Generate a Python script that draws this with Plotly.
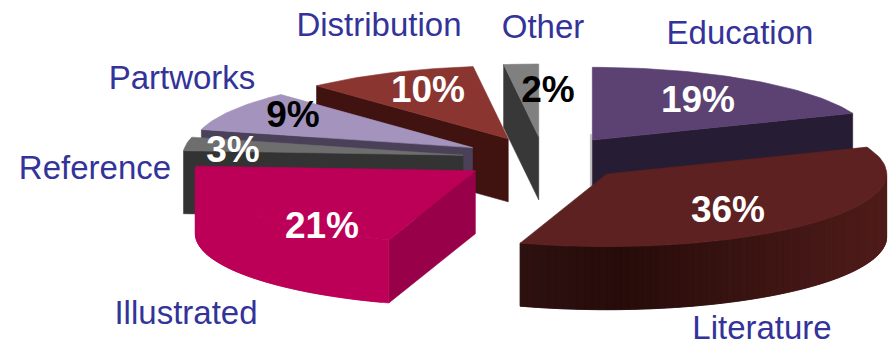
import math
import plotly.graph_objects as go

# Revenue share by division, clockwise from twelve o'clock
categories = ["Education", "Literature", "Illustrated", "Reference", "Partworks", "Distribution", "Other"]
shares = [19, 36, 21, 3, 9, 10, 2]

# Colours per division: top face, radial wall, outer wall ramp
top_colors = ["#5b4272", "#5c2120", "#bc0058", "#6e6e6e", "#a393bd", "#8a3530", "#808080"]
wall_colors = ["#261c33", "#3a1412", "#98004a", "#333333", "#4a4058", "#401210", "#383838"]
rim_colors = {
    "Literature": [(0.0, "#4f1c1a"), (0.72, "#260c0a"), (1.0, "#2e1110")],
    "Illustrated": [(0.0, "#bc0058"), (1.0, "#bc0058")],
}
pct_colors = ["white", "white", "white", "white", "black", "white", "black"]

# How far each slice is pulled out of the pie
explode = [86.0, 86.0, 83.0, 82.0, 83.0, 84.0, 84.0]

# Label anchor points on the page, in pixels
name_xy = [(740, 36), (762, 331), (186, 316), (95, 171), (182, 81), (379, 28), (543, 30)]
pct_xy = [(698, 103), (728, 213), (322, 229), (233, 153), (293, 118), (428, 93), (548, 93)]

# Projection of the tilted pie
CX, CY = 544.0, 158.6
RADIUS = 280.0
TILT = 0.26
DEPTH = 63.0


def project(deg, r, ox, oy):
    a = math.radians(deg)
    return ox + r * math.sin(a), oy - r * TILT * math.cos(a)


def hex_rgb(c):
    return tuple(int(c[i:i + 2], 16) for i in (1, 3, 5))


def ramp(stops, t):
    for (t0, c0), (t1, c1) in zip(stops, stops[1:]):
        if t <= t1:
            f = (t - t0) / (t1 - t0)
            a, b = hex_rgb(c0), hex_rgb(c1)
            return "rgb(%d,%d,%d)" % tuple(round(a[i] + (b[i] - a[i]) * f) for i in range(3))
    return stops[-1][1]


def polygon(points, color):
    return go.Scatter(
        x=[p[0] for p in points] + [points[0][0]],
        y=[p[1] for p in points] + [points[0][1]],
        mode="lines",
        fill="toself",
        fillcolor=color,
        line=dict(color=color, width=0.6),
        hoverinfo="skip",
        showlegend=False,
    )


# Work out each slice's angular span and exploded apex
slices = {}
angle = 0.0
for i, name in enumerate(categories):
    span = shares[i] * 3.6
    ox, oy = project(angle + span / 2, explode[i], CX, CY)
    slices[name] = dict(i=i, start=angle, end=angle + span, ox=ox, oy=oy)
    angle += span


def draw_slice(name):
    s = slices[name]
    i, a0, a1, ox, oy = s["i"], s["start"], s["end"], s["ox"], s["oy"]
    traces = []

    # A cut face is visible when its outward normal points toward the viewer
    for edge, visible in ((a0, math.sin(math.radians(a0)) < -1e-9), (a1, math.sin(math.radians(a1)) > 1e-9)):
        if visible:
            rx, ry = project(edge, RADIUS, ox, oy)
            traces.append(polygon([(ox, oy), (rx, ry), (rx, ry + DEPTH), (ox, oy + DEPTH)], wall_colors[i]))

    # Outer wall, only where the rim curves toward the viewer; each strip
    # runs one step under its neighbour so no background shows between them
    lo, hi = max(a0, 90.0), min(a1, 270.0)
    if lo < hi and name in rim_colors:
        steps = max(6, int((hi - lo) / 1.5))
        marks = [lo + (hi - lo) * k / steps for k in range(steps + 1)]
        xs = [project(d, RADIUS, ox, oy)[0] for d in marks]
        left, right = min(xs), max(xs)
        for k in range(steps):
            top = [project(d, RADIUS, ox, oy) for d in marks[k:k + 3]]
            bottom = [(p[0], p[1] + DEPTH) for p in reversed(top)]
            t = (right - xs[k]) / (right - left)
            traces.append(polygon(top + bottom, ramp(rim_colors[name], t)))

    # Top face
    steps = max(4, int((a1 - a0) / 1.5))
    rim = [project(a0 + (a1 - a0) * k / steps, RADIUS, ox, oy) for k in range(steps + 1)]
    traces.append(polygon([(ox, oy)] + rim, top_colors[i]))
    return traces


fig = go.Figure()

# Painter's order: far slices first
for name in ["Other", "Distribution", "Partworks", "Reference", "Education", "Illustrated", "Literature"]:
    if name == "Education":
        # Faint edge left by the cut face that sits almost side-on
        s = slices[name]
        fig.add_trace(go.Scatter(
            x=[s["ox"] - 1.5, s["ox"] - 1.5],
            y=[s["oy"] - 6, s["oy"] + 46],
            mode="lines",
            line=dict(color="#c4c4c4", width=2),
            hoverinfo="skip",
            showlegend=False,
        ))
    for tr in draw_slice(name):
        fig.add_trace(tr)

fig.add_trace(go.Scatter(
    x=[p[0] for p in name_xy],
    y=[p[1] for p in name_xy],
    mode="text",
    text=categories,
    textposition="middle center",
    textfont=dict(family="Liberation Sans", size=33, color="#333399"),
    hoverinfo="skip",
    showlegend=False,
))
fig.add_trace(go.Scatter(
    x=[p[0] for p in pct_xy],
    y=[p[1] for p in pct_xy],
    mode="text",
    text=[f"{v}%" for v in shares],
    textposition="middle center",
    textfont=dict(family="Liberation Sans", size=37, color=pct_colors, weight="bold"),
    hoverinfo="skip",
    showlegend=False,
))

fig.update_layout(
    width=895,
    height=347,
    margin=dict(l=0, r=0, t=0, b=0),
    paper_bgcolor="white",
    plot_bgcolor="white",
    xaxis=dict(range=[0, 895], visible=False, fixedrange=True),
    yaxis=dict(range=[347, 0], visible=False, fixedrange=True),
)

fig.write_html("out.html", config={"displayModeBar": False})
